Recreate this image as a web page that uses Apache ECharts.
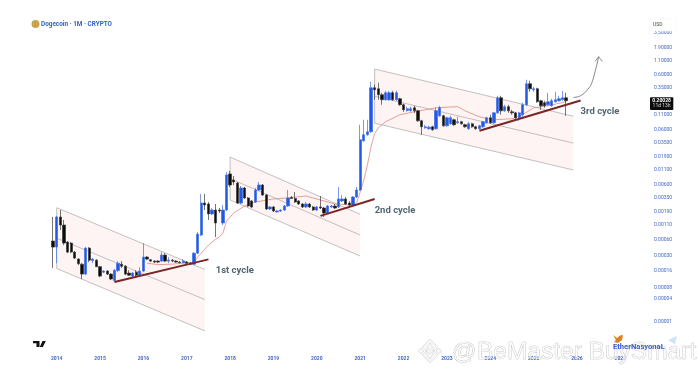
<!DOCTYPE html>
<html>
<head>
<meta charset="utf-8">
<title>Dogecoin 1M</title>
<style>
  html, body { margin: 0; padding: 0; background: #fff; }
  /* the source picture is a soft upscale, so soften the whole canvas a little */
  #chart { width: 698px; height: 377px; filter: blur(0.45px); }
</style>
<script src="https://cdn.jsdelivr.net/npm/echarts@6/dist/echarts.min.js"></script>
</head>
<body>
<div id="chart"></div>
<script>
// monthly candles, first one is Dec 2013
const opens = [.000556,.000432,.00153,.00109,.000533,.000511,.00035,.000261,.000211,.000139,.000414,.000245,.00025,.00019,.000151,.000158,.000139,.000106,.000161,.000211,.000194,.000145,.000128,.000151,.000133,.000158,.000284,.000255,.00024,.00024,.00024,.000309,.00024,.00025,.00024,.00023,.000225,.00023,.00022,.000211,.000335,.000716,.00275,.00264,.00174,.00205,.00205,.00119,.00205,.0093,.00723,.00637,.00275,.00517,.0034,.003,.00287,.00475,.00586,.00385,.00214,.00233,.00189,.00197,.00205,.00243,.00347,.00333,.003,.00264,.00233,.00264,.00233,.00205,.00233,.00223,.00181,.00233,.00243,.00233,.003,.00326,.00275,.00253,.00354,.00475,.0375,.0483,.0548,.347,.333,.259,.21,.21,.282,.21,.219,.17,.134,.134,.15,.132,.0868,.0647,.0621,.0675,.0621,.107,.107,.0704,.0765,.0905,.0798,.0832,.0734,.0621,.0765,.0675,.0621,.0675,.0798,.0985,.0798,.121,.228,.132,.157,.1265,.121,.0985,.112,.17,.411,.319,.333,.201,.185,.17,.163,.193,.201,.21,.228];
const closes = [.000432,.00153,.00109,.000511,.00035,.00035,.000272,.000215,.000139,.000414,.00025,.000261,.00019,.000128,.000158,.000139,.000113,.000164,.00022,.000194,.000139,.000133,.000145,.000133,.000158,.000284,.000261,.00024,.00023,.00023,.000309,.00024,.00025,.00024,.00023,.000225,.00024,.00022,.000211,.000335,.000746,.00275,.00253,.00174,.00205,.00119,.00197,.00205,.00892,.00586,.00665,.00275,.00517,.0034,.00243,.00233,.00475,.00586,.00385,.00214,.00233,.00197,.00197,.00205,.00243,.0034,.00333,.00287,.00264,.00233,.00264,.00233,.00205,.00233,.00223,.00181,.00243,.00243,.00223,.00326,.00326,.00264,.00253,.00354,.00475,.0391,.0483,.0548,.347,.319,.259,.21,.282,.282,.21,.282,.17,.1375,.144,.144,.132,.0868,.0675,.0675,.066,.0596,.132,.15,.0704,.0985,.0985,.0734,.0832,.0765,.0675,.0765,.0675,.0621,.0704,.0832,.0985,.0798,.121,.228,.132,.157,.132,.121,.0985,.121,.17,.411,.333,.333,.193,.163,.163,.193,.201,.21,.219,.228,.201];
const lows = [.000179,.00022,.000883,.00047,.000335,.000335,.000261,.000203,.000113,.000133,.00023,.00022,.000186,.000122,.000145,.000133,.000108,.0001,.000151,.000179,.000133,.000128,.000122,.000128,.000128,.000151,.00025,.00023,.00022,.00022,.00023,.00023,.00022,.00023,.000225,.00022,.00022,.000211,.000207,.000203,.000322,.000686,.00205,.00135,.00166,.000658,.00181,.00109,.00197,.00539,.00586,.00264,.00264,.00326,.00233,.00223,.00275,.00456,.00369,.00205,.00205,.00189,.00185,.00189,.00197,.00233,.00326,.00275,.00253,.00223,.00223,.00223,.00197,.00197,.00214,.00153,.00174,.00223,.00214,.00223,.00287,.00253,.00243,.00243,.0034,.00456,.036,.0463,.0525,.21,.21,.17,.201,.201,.201,.201,.163,.1265,.1265,.1265,.121,.0832,.0483,.0621,.0596,.0571,.0596,.1025,.0675,.0675,.0734,.0704,.0765,.0734,.0647,.0596,.0647,.0596,.0596,.0647,.0765,.0765,.0765,.1165,.112,.1265,.121,.112,.0905,.0868,.1025,.163,.294,.294,.185,.1375,.15,.163,.157,.185,.193,.201,.107];
const highs = [.00153,.0016,.00205,.00135,.000556,.000533,.000365,.000272,.00022,.000432,.000432,.000272,.000261,.000194,.000164,.000164,.000145,.000171,.00024,.00024,.000203,.000164,.000151,.000164,.000186,.000511,.000296,.000261,.00025,.00025,.00035,.000335,.000284,.000261,.00025,.00024,.000261,.00024,.00023,.00035,.000812,.00402,.00402,.00287,.00223,.00264,.00223,.00253,.0101,.0106,.00855,.00665,.00562,.00539,.00354,.00312,.00517,.00665,.00611,.00402,.00243,.00243,.00205,.0021,.00253,.00475,.00369,.00437,.00312,.00275,.00287,.00275,.00243,.00243,.00369,.00233,.00253,.00253,.00264,.00539,.00385,.00354,.003,.00369,.00539,.0734,.0905,.0905,.446,.394,.428,.282,.306,.306,.306,.306,.228,.178,.157,.157,.163,.1375,.0905,.0734,.0704,.0704,.15,.163,.112,.1025,.107,.0945,.1025,.0868,.0765,.0832,.0798,.0704,.0734,.0868,.1025,.112,.1265,.248,.248,.17,.17,.1375,.1265,.1265,.185,.4855,.466,.362,.347,.21,.201,.282,.219,.294,.248,.306,.282];

// thin moving average, month index into the axis + price
const maAt = [26,29,33,36,39,40,41,43,45,46,47,48,50,53,56,61,65,70,74,78,83,84,85,86,87,88,89,90,92,96,100,106,112,114,118,122,127,130,133,137,142];
const maValues = [.00022,.000207,.000211,.00022,.000225,.000284,.000335,.00047,.000605,.000658,.000779,.00129,.00181,.00243,.00287,.00326,.0034,.00369,.00312,.00264,.00253,.00275,.00437,.00723,.0136,.0291,.0504,.0647,.0832,.112,.1265,.15,.157,.132,.1025,.0905,.0945,.112,.15,.163,.193];

// falling channels, one entry per cycle
const channelFrom = [1, 49, 89];
const channelTo = [42, 85, 144];
const topFrom = [.00226, .0189, .761];
const topTo = [.000169, .00171, .105];
const midFrom = [.00063, .00767, .244];
const midTo = [.0000478, .000716, .034];
const lowFrom = [.000176, .00312, .0785];
const lowTo = [.0000128, .000296, .011];

// red support lines
const trendFrom = [17, 74, 118];
const trendTo = [43, 89, 146];
const trendStart = [.0000995, .0016, .0571];
const trendEnd = [.000258, .00326, .204];

const cycleNames = ['1st cycle', '2nd cycle', '3rd cycle'];
const cycleAt = [45, 89, 146];
const cyclePrice = [.000158, .00197, .125];

// the projected move up
const arrowAt = [144, 146, 148, 149, 150, 151];
const arrowPrice = [.2307, .248, .325, .411, .68, 1.276];
const headAt = [150, 151, 152];
const headPrice = [1.05, 1.276, 1.05];

// price scale: tickValues is where the label sits, tickLabels what it says
// (the bottom two labels do not sit on a clean log spot in the picture)
const tickValues = [3.5,1.9,1.1,.6,.35,.11,.06,.035,.019,.011,.006,.0035,.0019,.0011,.0006,.0003,.00016,.00008,.000049,.000019];
const tickLabels = ['3.50000','1.90000','1.10000','0.60000','0.35000','0.11000','0.06000','0.03500','0.01900','0.01100','0.00600','0.00350','0.00190','0.00110','0.00060','0.00030','0.00016','0.00008','0.00004','0.00001'];

const months = [];
for (let i = 0; i < 161; i++) {
  const m = i + 11;
  months.push((2013 + Math.floor(m / 12)) + '-' + String(m % 12 + 1).padStart(2, '0'));
}

const BLUE = '#2058e8';
const LABEL_BLUE = '#4467c8';

const chart = echarts.init(document.getElementById('chart'));

function polyLine(api, pts) {
  return pts.map((p) => api.coord(p));
}

const channelRows = channelFrom.map((from, k) => [from, channelTo[k], topFrom[k], topTo[k], midFrom[k], midTo[k], lowFrom[k], lowTo[k]]);

function lineSeries(data, color, width, z, smooth) {
  return {
    type: 'line',
    data: data,
    symbol: 'none',
    silent: true,
    smooth: smooth || false,
    z: z,
    lineStyle: { color: color, width: width },
  };
}

const logoStyle = { fill: 'rgba(244,244,244,0.9)', stroke: 'rgba(200,200,200,0.8)', lineWidth: 0.6 };
function diamond(cx, cy, r) {
  return { type: 'polygon', z: 100, silent: true, shape: { points: [[cx, cy - r], [cx + r, cy], [cx, cy + r], [cx - r, cy]] }, style: logoStyle };
}
function chevron(cx, cy, r, dir) {
  const t = r * 0.5;
  return { type: 'polygon', z: 100, silent: true,
    shape: { points: [[cx - r, cy + dir * r], [cx, cy], [cx + r, cy + dir * r], [cx + t, cy + dir * (r + t)], [cx, cy + dir * t], [cx - t, cy + dir * (r + t)]] },
    style: logoStyle };
}

const option = {
  animation: false,
  backgroundColor: '#fff',
  grid: { left: 51.29, top: 20, width: 581.7, height: 325 },
  xAxis: {
    type: 'category',
    data: months,
    boundaryGap: true,
    axisLine: { show: false },
    axisTick: { show: false },
    splitLine: { show: false },
    axisLabel: {
      interval: (i, v) => v.endsWith('-01'),
      formatter: (v) => v.slice(0, 4),
      color: LABEL_BLUE,
      fontSize: 5,
      fontWeight: 'bold',
      fontFamily: 'Roboto',
      margin: 11,
      hideOverlap: false,
    },
  },
  yAxis: {
    type: 'log',
    position: 'right',
    min: 7.09e-6,
    max: 5.97,
    axisLine: { show: false },
    axisTick: { show: false },
    splitLine: { show: false },
    axisLabel: {
      customValues: tickValues,
      formatter: (v) => {
        const k = tickValues.findIndex((t) => Math.abs(t - v) / t < 0.01);
        return k < 0 ? '' : tickLabels[k];
      },
      color: LABEL_BLUE,
      fontSize: 5,
      fontFamily: 'Roboto',
      margin: 21,
    },
  },
  series: [
    {
      type: 'custom',
      silent: true,
      clip: false,
      z: 1,
      encode: { x: [0, 1], y: [2, 3, 4, 5, 6, 7] },
      data: channelRows,
      renderItem: (params, api) => {
        const from = api.value(0);
        const to = api.value(1);
        const a = polyLine(api, [[from, api.value(2)], [to, api.value(3)], [to, api.value(7)], [from, api.value(6)]]);
        const mid = polyLine(api, [[from, api.value(4)], [to, api.value(5)]]);
        const edge = { stroke: '#aaa6a6', lineWidth: 0.7, fill: null };
        return {
          type: 'group',
          children: [
            { type: 'polygon', shape: { points: a }, style: { fill: '#fdf4f3' } },
            { type: 'polyline', shape: { points: [a[3], a[0], a[1]] }, style: edge },
            { type: 'polyline', shape: { points: [a[3], a[2]] }, style: edge },
            { type: 'polyline', shape: { points: mid }, style: edge },
          ],
        };
      },
    },
    lineSeries(maAt.map((at, k) => [at, maValues[k]]), '#e2897e', 0.8, 3),
    {
      type: 'candlestick',
      silent: true,
      z: 4,
      barWidth: 2.8,
      data: opens.map((o, k) => [o, closes[k], lows[k], highs[k]]),
      itemStyle: {
        color: BLUE,
        color0: '#0c0c0c',
        borderColor: '#3f6fe6',
        borderColor0: '#3a3a3a',
        borderWidth: 0.7,
      },
    },
    ...trendFrom.map((from, k) => lineSeries([[from, trendStart[k]], [trendTo[k], trendEnd[k]]], '#7c2525', 2, 5)),
    lineSeries(arrowAt.map((at, k) => [at, arrowPrice[k]]), '#666', 0.8, 5, 0.4),
    lineSeries(headAt.map((at, k) => [at, headPrice[k]]), '#666', 0.7, 5),
    {
      type: 'scatter',
      silent: true,
      z: 6,
      symbolSize: 0,
      data: cycleAt.map((at, k) => [at, cyclePrice[k], cycleNames[k]]),
      label: {
        show: true,
        position: 'right',
        distance: 0,
        formatter: (p) => p.value[2],
        color: '#25404c',
        fontSize: 9.5,
        fontWeight: 'bold',
        fontFamily: 'Roboto',
      },
    },
  ],
  graphic: [
    { type: 'circle', z: 100, silent: true, shape: { cx: 35.5, cy: 24, r: 4 }, style: { fill: '#c9a450' } },
    { type: 'text', z: 100, silent: true, style: { x: 41, y: 24, text: 'Dogecoin · 1M · CRYPTO', font: 'bold 6.4px Roboto', fill: '#3560c8', verticalAlign: 'middle' } },
    { type: 'rect', z: 100, silent: true, shape: { x: 650, y: 19, width: 26, height: 12, r: 1 }, style: { fill: '#fff', stroke: '#f6f6f6', lineWidth: 0.6 } },
    { type: 'text', z: 101, silent: true, style: { x: 653, y: 24.5, text: 'USD', font: '5px Roboto', fill: '#444', verticalAlign: 'middle' } },
    { type: 'rect', z: 100, silent: true, shape: { x: 650, y: 97.3, width: 23.3, height: 12.7, r: 1 }, style: { fill: '#0b0b0b' } },
    { type: 'text', z: 101, silent: true, style: { x: 661.6, y: 100.8, text: '0.20028', font: 'bold 5px Roboto', fill: '#fff', align: 'center', verticalAlign: 'middle' } },
    { type: 'text', z: 101, silent: true, style: { x: 661.6, y: 106.2, text: '11d 13h', font: '5px Roboto', fill: '#ddd', align: 'center', verticalAlign: 'middle' } },
    // TradingView mark
    { type: 'polygon', z: 100, silent: true, shape: { points: [[33, 341], [39.5, 341], [39.5, 347], [36.5, 347], [36.5, 343.3], [33, 343.3]] }, style: { fill: '#111' } },
    { type: 'polygon', z: 100, silent: true, shape: { points: [[42.5, 341], [45.8, 341], [42.8, 347], [39.8, 347]] }, style: { fill: '#111' } },
    // Binance style watermark
    diamond(430, 351, 3.5),
    diamond(421, 351, 3),
    diamond(439, 351, 3),
    chevron(430, 339, 8, 1),
    chevron(430, 363, 8, -1),
    { type: 'text', z: 100, silent: true, style: { x: 452, y: 352, text: '@', font: '24px "Liberation Sans"', fill: 'rgba(255,255,255,0.6)', stroke: '#b8b8b8', lineWidth: 0.6, verticalAlign: 'middle' } },
    { type: 'text', z: 100, silent: true, style: { x: 477, y: 352, text: 'BeMaster BuySmart', font: '24.5px "Liberation Sans"', fill: 'rgba(255,255,255,0.6)', stroke: '#b0b0b0', lineWidth: 0.5, verticalAlign: 'middle' } },
    // EtherNasyonaL handle
    { type: 'polygon', z: 102, silent: true, shape: { points: [[613, 335], [617, 338], [620, 335.5], [623, 335], [622, 340], [618, 343], [614, 342], [616, 340]] }, style: { fill: '#e0801f' } },
    { type: 'polygon', z: 102, silent: true, shape: { points: [[668, 340], [677, 336], [675, 344], [671, 342]] }, style: { fill: '#cfe4f4' } },
    { type: 'text', z: 102, silent: true, style: { x: 613, y: 347, text: 'EtherNasyonaL', font: 'bold 7.6px Roboto', fill: '#3a5fc8', verticalAlign: 'middle' } },
  ],
};

chart.setOption(option);
</script>
</body>
</html>
